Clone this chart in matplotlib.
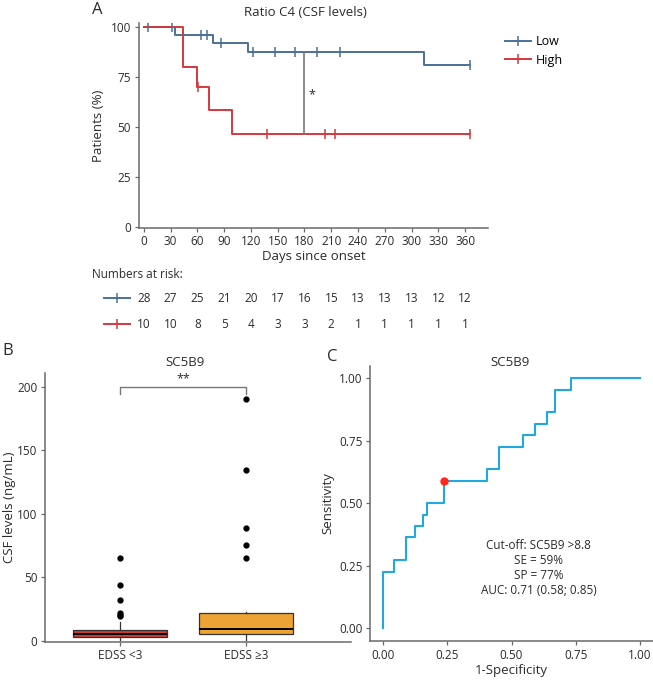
import numpy as np
import matplotlib
matplotlib.use("Agg")
import matplotlib.pyplot as plt
from matplotlib.lines import Line2D

plt.rcParams['font.family'] = ['Open Sans', 'DejaVu Sans']
plt.rcParams['font.size'] = 8.5

# ---- panel A data (Kaplan-Meier)
low_t = [0, 35, 77, 116.5, 314, 365.5]
low_s = [100, 96.2, 92.0, 87.6, 80.9, 80.9]
low_cens = [5, 31, 64, 70.5, 87, 122, 147, 169.5, 194, 220, 365.5]
high_t = [0, 44, 60, 73.5, 99, 365.5]
high_s = [100, 80, 70, 58.3, 46.7, 46.7]
high_cens = [61, 138, 203, 214, 365.5]
risk_days = [0, 30, 60, 90, 120, 150, 180, 210, 240, 270, 300, 330, 360]
risk_low = [28, 27, 25, 21, 20, 17, 16, 15, 13, 13, 13, 12, 12]
risk_high = [10, 10, 8, 5, 4, 3, 3, 2, 1, 1, 1, 1, 1]
sig_day = 180

# ---- panel B data (box stats)
groups = ['EDSS <3', 'EDSS \u22653']
q1 = [2.9, 5.3]
med = [5.8, 9.2]
q3 = [8.7, 22.1]
whis_lo = [1.0, 1.0]
whis_hi = [15.2, 23.1]
outliers = [[19.2, 20.5, 21.8, 32.1, 43.7, 65.0],
            [65.0, 75.2, 88.7, 134.4, 190.3]]

# ---- panel C data (ROC)
fpr = [0, 0, 0.044, 0.044, 0.091, 0.091, 0.126, 0.126, 0.155, 0.155, 0.171, 0.171,
       0.236, 0.236, 0.404, 0.404, 0.452, 0.452, 0.544, 0.544, 0.592, 0.592,
       0.637, 0.637, 0.670, 0.670, 0.731, 0.731, 1.0]
tpr = [0, 0.227, 0.227, 0.273, 0.273, 0.364, 0.364, 0.409, 0.409, 0.455, 0.455, 0.5,
       0.5, 0.591, 0.591, 0.636, 0.636, 0.727, 0.727, 0.773, 0.773, 0.818,
       0.818, 0.864, 0.864, 0.955, 0.955, 1.0, 1.0]
cut_fpr, cut_tpr = 0.236, 0.591

blue = '#4c7099'
red = '#d5373c'
spine_c = '#6a6a6a'
txt_c = '#2b2b2b'

def style(ax):
    for s in ['top', 'right']:
        ax.spines[s].set_visible(False)
    for s in ['left', 'bottom']:
        ax.spines[s].set_color(spine_c)
        ax.spines[s].set_linewidth(1.1)
    ax.tick_params(colors=spine_c, labelcolor=txt_c, length=3, width=0.9, labelsize=8.5, pad=2.5)

W, H = 653, 681
fig = plt.figure(figsize=(W / 100, H / 100), dpi=100)

def box(l, t, r, b):
    return [l / W, 1 - b / H, (r - l) / W, (b - t) / H]

# ================= A
axA = fig.add_axes(box(138.5, 23.3, 488.3, 227.7))
style(axA)
axA.plot(low_t, low_s, drawstyle='steps-post', color=blue, lw=1.4)
axA.plot(high_t, high_s, drawstyle='steps-post', color=red, lw=1.4)
def surv_at(t, ts, ss):
    idx = np.searchsorted(ts, t, side='right') - 1
    return [ss[i] for i in idx]
axA.plot(low_cens, surv_at(low_cens, low_t, low_s), ls='none', marker='|', ms=7, mew=1.1, color=blue)
axA.plot(high_cens, surv_at(high_cens, high_t, high_s), ls='none', marker='|', ms=7, mew=1.1, color=red)
y_lo = surv_at([sig_day], high_t, high_s)[0]
y_hi = surv_at([sig_day], low_t, low_s)[0]
axA.plot([sig_day, sig_day], [y_lo, y_hi], color='#777777', lw=1.2)
axA.text(sig_day + 4, (y_lo + y_hi) / 2 - 1, '*', fontsize=9, color=txt_c, ha='left', va='center')
axA.set_xlim(-6, 386)
axA.set_ylim(-0.5, 102)
axA.set_xticks(risk_days)
axA.set_yticks([0, 25, 50, 75, 100])
axA.set_xlabel('Days since onset', fontsize=9.5, color=txt_c, labelpad=1)
axA.set_ylabel('Patients (%)', fontsize=9.5, color=txt_c, labelpad=4)
fig.text(305 / W, 1 - 12 / H, 'Ratio C4 (CSF levels)', fontsize=9.5, color=txt_c, ha='center', va='center')
handles = [Line2D([], [], color=blue, lw=1.4, marker='|', ms=7, mew=1.1),
           Line2D([], [], color=red, lw=1.4, marker='|', ms=7, mew=1.1)]
fig.legend(handles, ['Low', 'High'], loc='upper left', bbox_to_anchor=(505 / W, 1 - 35 / H),
           frameon=False, fontsize=9, handlelength=2.1, handletextpad=0.35, labelspacing=0.45,
           borderaxespad=0, borderpad=0)
fig.text(97 / W, 1 - 10 / H, 'A', fontsize=12, color=txt_c, ha='center', va='center')

# risk table
axR = fig.add_axes(box(138.5, 285, 488.3, 337))
axR.set_xlim(axA.get_xlim())
axR.set_ylim(0, 2)
axR.axis('off')
fig.text(92 / W, 1 - 275 / H, 'Numbers at risk:', fontsize=8.5, color=txt_c, ha='left', va='center')
for row, vals, c in [(1.49, risk_low, blue), (0.49, risk_high, red)]:
    for d, v in zip(risk_days, vals):
        axR.text(d, row, str(v), ha='center', va='center', fontsize=8.5, color=txt_c)
    axR.plot([-45, -16], [row, row], color=c, lw=1.4, clip_on=False)
    axR.plot([-30.5], [row], marker='|', ms=7, mew=1.1, color=c, clip_on=False)

# ================= B
axB = fig.add_axes(box(45, 373, 350.7, 641.5))
style(axB)
stats = []
for i in range(2):
    stats.append(dict(q1=q1[i], med=med[i], q3=q3[i], whislo=whis_lo[i], whishi=whis_hi[i],
                      fliers=outliers[i], label=groups[i]))
bp = axB.bxp(stats, positions=[1, 2], widths=0.75, patch_artist=True, showcaps=False,
             boxprops=dict(edgecolor='#333333', linewidth=0.9),
             medianprops=dict(color='black', linewidth=1.4),
             whiskerprops=dict(color='#333333', linewidth=0.9),
             flierprops=dict(marker='o', markerfacecolor='black', markeredgecolor='black', markersize=3.5))
for patch, fc in zip(bp['boxes'], ['#cf3a37', '#eea335']):
    patch.set_facecolor(fc)
axB.set_xlim(0.4, 2.835)
axB.set_ylim(-0.5, 211)
axB.set_yticks([0, 50, 100, 150, 200])
axB.set_xticks([1, 2])
axB.set_xticklabels(groups)
axB.plot([1, 1, 2, 2], [194.5, 200, 200, 194.5], color='#777777', lw=1.0)
axB.text(1.5, 201, '**', ha='center', va='bottom', fontsize=9, color=txt_c)
axB.set_ylabel('CSF levels (ng/mL)', fontsize=9.5, color=txt_c, labelpad=1)
fig.text(185 / W, 1 - 362 / H, 'SC5B9', fontsize=9.5, color=txt_c, ha='center', va='center')
fig.text(8 / W, 1 - 351 / H, 'B', fontsize=12, color=txt_c, ha='center', va='center')

# ================= C
axC = fig.add_axes(box(370, 365.8, 653, 641))
style(axC)
axC.plot(fpr, tpr, color='#22a8e0', lw=1.5)
axC.plot([cut_fpr], [cut_tpr], 'o', color='#ff2a1a', ms=5)
axC.set_xlim(-0.05, 1.05)
axC.set_ylim(-0.05, 1.05)
ticks = [0, 0.25, 0.5, 0.75, 1.0]
axC.set_xticks(ticks)
axC.set_yticks(ticks)
axC.set_xticklabels(['%.2f' % t for t in ticks])
axC.set_yticklabels(['%.2f' % t for t in ticks])
axC.set_xlabel('1-Specificity', fontsize=9.5, color=txt_c, labelpad=2)
axC.set_ylabel('Sensitivity', fontsize=9.5, color=txt_c, labelpad=3)
fig.text(510 / W, 1 - 362 / H, 'SC5B9', fontsize=9.5, color=txt_c, ha='center', va='center')
axC.text(0.605, 0.357, 'Cut-off: SC5B9 >8.8\nSE = 59%\nSP = 77%\nAUC: 0.71 (0.58; 0.85)',
         ha='center', va='top', fontsize=8.5, color=txt_c, linespacing=1.2)
fig.text(332 / W, 1 - 357 / H, 'C', fontsize=12, color=txt_c, ha='center', va='center')

fig.savefig('out.png', dpi=100)
